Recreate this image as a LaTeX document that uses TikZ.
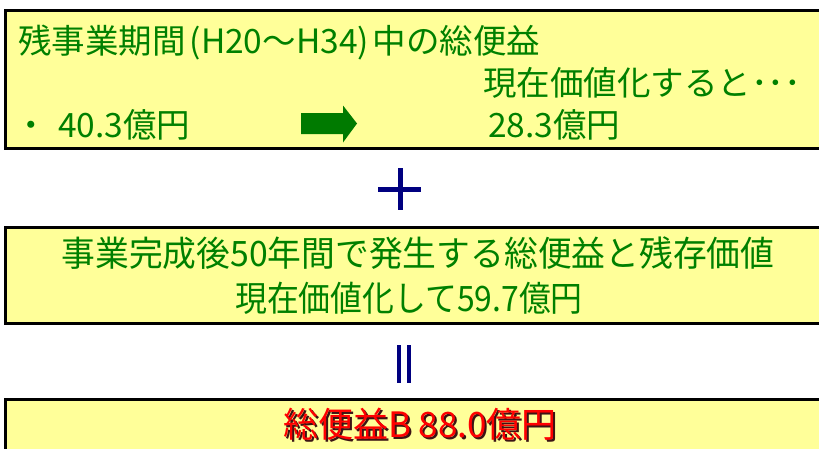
\documentclass[tikz,border=0pt]{standalone}
\usepackage{graphicx}
\usepackage{fontspec}
\setmainfont{Noto Sans CJK JP}
\definecolor{boxfill}{RGB}{255,255,153}
\definecolor{txtgreen}{RGB}{0,128,0}
\definecolor{arrgreen}{RGB}{0,122,0}
\definecolor{navy}{RGB}{0,0,128}
\definecolor{shadowc}{RGB}{60,20,20}
\begin{document}
\begin{tikzpicture}[x=1pt,y=-1pt,
  panel/.style={draw=black,fill=boxfill,line width=3pt},
  gtext/.style={text=txtgreen,font=\fontsize{33.5}{36}\selectfont,inner sep=0pt,anchor=base west},
  ctext/.style={text=txtgreen,font=\fontsize{35}{38}\selectfont,inner sep=0pt,anchor=base},
  rtext/.style={font=\fontsize{35}{38}\selectfont,inner sep=0pt,anchor=base},
  opbar/.style={draw=navy,line width=5pt}]
\useasboundingbox (0,0) rectangle (819,448);
\clip (0,0) rectangle (819,448);
\fill[white] (0,0) rectangle (819,448);
% panels
\draw[panel] (5.5,10) rectangle (830,148);
\draw[panel] (5.5,227.5) rectangle (830,323);
\draw[panel] (5.5,399) rectangle (830,460);
% box 1 text
\node[gtext] (l1) at (18,53) {残事業期間\hspace{4pt}(H20～H34)\hspace{4pt}中の総便益};
\node[gtext] (l2) at (483,95) {現在価値化すると･･･};
\node[gtext] (bul) at (14,137) {・};
\node[gtext] (v1) at (58,137) {40.3億円};
\node[gtext] (v2) at (488,137) {28.3億円};
% arrow
\fill[arrgreen] (301,113) -- (343,113) -- (343,105.5) -- (357,123.5) -- (343,142.5) -- (343,134) -- (301,134) -- cycle;
% plus
\coordinate (pl) at (378,189.5);
\coordinate (pr) at (421,189.5);
\coordinate (pt) at (400,168);
\coordinate (pb) at (400,210);
\draw[opbar] (pl) -- (pr);
\draw[opbar] (pt) -- (pb);
% box 2 text
\node[ctext] (m1) at (418,266) {\scalebox{0.965}[1]{事業完成後50年間で発生する総便益と残存価値}};
\node[ctext] (m2) at (409,311) {\scalebox{0.91}[1]{現在価値化して59.7億円}};
% double bar
\coordinate (e1t) at (399,345);
\coordinate (e1b) at (399,383);
\coordinate (e2t) at (409,345);
\coordinate (e2b) at (409,383);
\draw[navy,line width=4pt] (e1t) -- (e1b);
\draw[navy,line width=4pt] (e2t) -- (e2b);
% box 3 text
\node[rtext,text=shadowc] (rs) at (422,439) {総便益B 88.0億円};
\node[rtext,text=red] (rt) at (420,437) {総便益B 88.0億円};
\end{tikzpicture}
\end{document}
